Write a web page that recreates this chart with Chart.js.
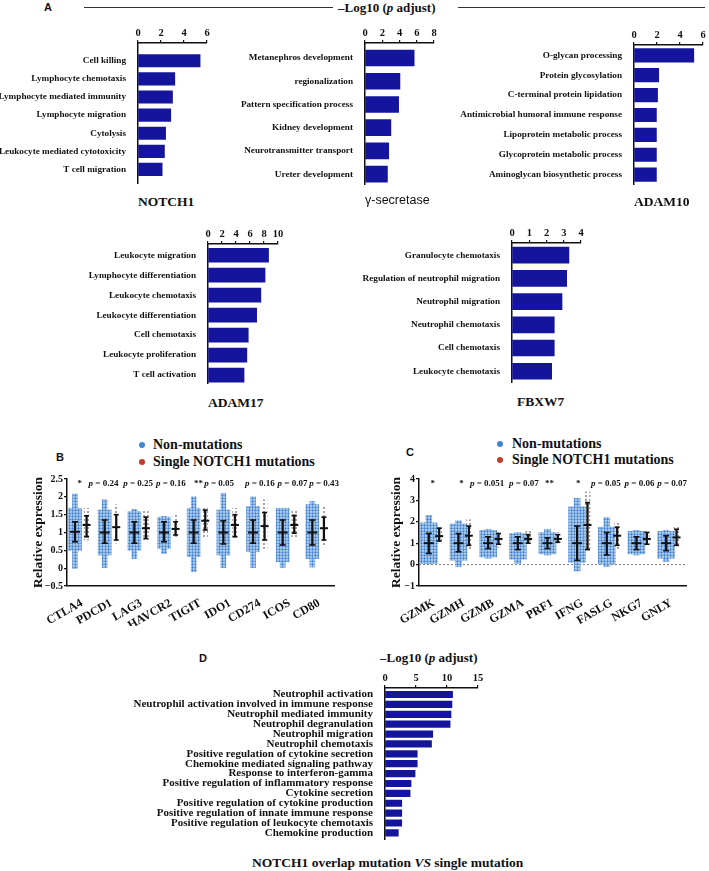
<!DOCTYPE html>
<html>
<head>
<meta charset="utf-8">
<script src="https://cdn.jsdelivr.net/npm/chart.js@4.4.1/dist/chart.umd.min.js"></script>
<style>
body { margin: 0; background: #fff; }
#wrap { position: relative; width: 709px; height: 871px; font-family: 'Liberation Serif', 'Times New Roman', serif; color: #111; overflow: hidden; }
canvas { position: absolute; }
.t { position: absolute; white-space: nowrap; font-weight: bold; line-height: 1; }
.tag { position: absolute; font-family: 'Liberation Sans', Arial, sans-serif; font-weight: bold; font-size: 11px; line-height: 1; }
.rule { position: absolute; height: 0; border-top: 1.3px solid #333; }
.dot { position: absolute; width: 6px; height: 6px; border-radius: 50%; }
</style>
</head>
<body>
<div id="wrap">
  <div class="tag" style="left:44px;top:2px">A</div>
  <div class="rule" style="left:84px;top:7px;width:249px"></div>
  <div class="t" style="left:338px;top:1px;font-size:13px">–Log10 (<i>p</i> adjust)</div>
  <div class="rule" style="left:458px;top:7px;width:247px"></div>

  <canvas id="notch1"></canvas>
  <canvas id="gsec"></canvas>
  <canvas id="adam10"></canvas>
  <canvas id="adam17"></canvas>
  <canvas id="fbxw7"></canvas>
  <div class="t" style="left:138px;top:195px;font-size:13.5px">NOTCH1</div>
  <div class="t" style="left:365px;top:194px;font-size:12.5px;font-weight:normal;font-family:'Liberation Sans',Arial,sans-serif">γ-secretase</div>
  <div class="t" style="left:634px;top:195px;font-size:13.5px">ADAM10</div>
  <div class="t" style="left:208px;top:396px;font-size:13.5px">ADAM17</div>
  <div class="t" style="left:517px;top:395px;font-size:13.5px">FBXW7</div>

  <div class="tag" style="left:56px;top:452px">B</div>
  <div class="dot" style="left:139px;top:442px;background:#3f86d2"></div>
  <div class="t" style="left:153px;top:438px;font-size:14px">Non-mutations</div>
  <div class="dot" style="left:139px;top:459px;background:#c23a2c"></div>
  <div class="t" style="left:153px;top:455px;font-size:14px">Single NOTCH1 mutations</div>
  <canvas id="panelB"></canvas>

  <div class="tag" style="left:406px;top:447px">C</div>
  <div class="dot" style="left:497px;top:441px;background:#3f86d2"></div>
  <div class="t" style="left:512px;top:437px;font-size:14px">Non-mutations</div>
  <div class="dot" style="left:497px;top:457px;background:#c23a2c"></div>
  <div class="t" style="left:512px;top:453px;font-size:14px">Single NOTCH1 mutations</div>
  <canvas id="panelC"></canvas>

  <div class="tag" style="left:199px;top:653px">D</div>
  <div class="t" style="left:380px;top:651px;font-size:13px">–Log10 (<i>p</i> adjust)</div>
  <canvas id="panelD"></canvas>
  <div class="t" style="left:252px;top:856px;font-size:13.5px">NOTCH1 overlap mutation <i>VS</i> single mutation</div>
</div>

<script>
// ---- panel A: GO terms, -log10(p adjust)
const notch1Terms = ['Cell killing', 'Lymphocyte chemotaxis', 'Lymphocyte mediated immunity', 'Lymphocyte migration', 'Cytolysis', 'Leukocyte mediated cytotoxicity', 'T cell migration'];
const notch1Vals = [5.4, 3.2, 3.0, 2.85, 2.4, 2.3, 2.1];

const gsecTerms = ['Metanephros development', 'regionalization', 'Pattern specification process', 'Kidney development', 'Neurotransmitter transport', 'Ureter development'];
const gsecVals = [5.7, 4.05, 3.9, 3.0, 2.75, 2.6];

const adam10Terms = ['O-glycan processing', 'Protein glycosylation', 'C-terminal protein lipidation', 'Antimicrobial humoral immune response', 'Lipoprotein metabolic process', 'Glycoprotein metabolic process', 'Aminoglycan biosynthetic process'];
const adam10Vals = [5.2, 2.15, 2.05, 1.95, 1.95, 1.95, 1.95];

const adam17Terms = ['Leukocyte migration', 'Lymphocyte differentiation', 'Leukocyte chemotaxis', 'Leukocyte differentiation', 'Cell chemotaxis', 'Leukocyte proliferation', 'T cell activation'];
const adam17Vals = [8.65, 8.15, 7.55, 6.95, 5.75, 5.55, 5.15];

const fbxw7Terms = ['Granulocyte chemotaxis', 'Regulation of neutrophil migration', 'Neutrophil migration', 'Neutrophil chemotaxis', 'Cell chemotaxis', 'Leukocyte chemotaxis'];
const fbxw7Vals = [3.3, 3.17, 2.9, 2.45, 2.45, 2.3];

// ---- panel B: immune checkpoints (relative expression)
const bGenes = ['CTLA4', 'PDCD1', 'LAG3', 'HAVCR2', 'TIGIT', 'IDO1', 'CD274', 'ICOS', 'CD80'];
const bNonMean = [1.02, 1, 1, 1, 1, 1, 1, 1, 1];
const bNonSd = [[0.74, 1.3], [0.7, 1.35], [0.7, 1.3], [0.74, 1.3], [0.7, 1.35], [0.68, 1.33], [0.7, 1.35], [0.65, 1.35], [0.65, 1.35]];
const bNonCore = [[0.5, 1.68], [0.37, 1.63], [0.5, 1.59], [0.55, 1.43], [0.32, 1.68], [0.37, 1.63], [0.46, 1.73], [0.18, 1.68], [0.27, 1.78]];
const bNonRange = [[-0.01, 2.08], [0, 1.92], [0.27, 1.65], [0.41, 1.45], [-0.1, 2.0], [0, 2.1], [0, 2.0], [0.02, 1.68], [0.03, 1.87]];
const bMutMean = [1.21, 1.15, 1.12, 1.1, 1.33, 1.21, 1.18, 1.21, 1.12];
const bMutSd = [[0.88, 1.47], [0.79, 1.5], [0.83, 1.43], [0.93, 1.3], [1.07, 1.63], [0.88, 1.5], [0.79, 1.56], [0.98, 1.48], [0.79, 1.43]];
const bMutRange = [[0.79, 1.68], [0.7, 1.78], [0.8, 1.6], [0.88, 1.5], [0.88, 1.68], [0.9, 1.68], [0.55, 1.92], [0.85, 1.6], [0.6, 1.73]];
const bNotes = ['*', 'p = 0.24', 'p = 0.25', 'p = 0.16', '**', 'p = 0.05', 'p = 0.16', 'p = 0.07', 'p = 0.43'];

// ---- panel C: cytotoxic genes
const cGenes = ['GZMK', 'GZMH', 'GZMB', 'GZMA', 'PRF1', 'IFNG', 'FASLG', 'NKG7', 'GNLY'];
const cNonMean = [1, 1, 1, 1, 1, 1, 1, 1, 1];
const cNonSd = [[0.52, 1.46], [0.6, 1.45], [0.75, 1.3], [0.7, 1.3], [0.75, 1.25], [0.2, 1.8], [0.45, 1.5], [0.7, 1.3], [0.65, 1.35]];
const cNonCore = [[0.05, 1.95], [0.2, 1.9], [0.35, 1.6], [0.25, 1.45], [0.5, 1.5], [0.1, 2.7], [0.0, 1.75], [0.5, 1.55], [0.3, 1.55]];
const cNonRange = [[0, 2.3], [-0.1, 2.05], [0.3, 1.65], [0.05, 1.5], [0.45, 1.65], [-0.3, 3.1], [-0.1, 2.2], [0.45, 1.6], [0.15, 1.6]];
const cMutMean = [1.33, 1.35, 1.2, 1.2, 1.2, 1.85, 1.35, 1.2, 1.27];
const cMutSd = [[1.1, 1.7], [0.9, 1.8], [0.95, 1.45], [1.0, 1.4], [1.05, 1.4], [0.7, 2.9], [0.9, 1.75], [0.95, 1.5], [0.9, 1.65]];
const cMutRange = [[1.0, 1.75], [0.7, 2.1], [0.8, 1.5], [1.0, 1.6], [1.0, 1.5], [0.7, 3.4], [0.7, 2.0], [0.9, 1.6], [0.9, 1.8]];
const cNotes = ['*', '*', 'p = 0.051', 'p = 0.07', '**', '*', 'p = 0.05', 'p = 0.06', 'p = 0.07'];

// ---- panel D: overlap vs single mutation
const dTerms = ['Neutrophil activation', 'Neutrophil activation involved in immune response', 'Neutrophil mediated immunity', 'Neutrophil degranulation', 'Neutrophil migration', 'Neutrophil chemotaxis', 'Positive regulation of cytokine secretion', 'Chemokine mediated signaling pathway', 'Response to interferon-gamma', 'Positive regulation of inflammatory response', 'Cytokine secretion', 'Positive regulation of cytokine production', 'Positive regulation of innate immune response', 'Positive regulation of leukocyte chemotaxis', 'Chemokine production'];
const dVals = [10.9, 10.8, 10.65, 10.5, 7.7, 7.5, 5.2, 5.2, 4.85, 4.2, 4.05, 2.7, 2.7, 2.7, 2.15];

const SERIF = "'Liberation Serif', 'Times New Roman', serif";
const INK = '#111';
const BAR_BLUE = '#14149c';

// horizontal GO bar chart; box = chart area in page pixels
function termBars(id, box, terms, vals, xMax, xStep, firstMid, lastMid, barH, fontPx) {
  const cv = document.getElementById(id);
  const n = terms.length;
  const unit = (lastMid - firstMid) / (n - 1);
  const yMin = -(firstMid - box.top) / unit;
  const yMax = n - 1 + (box.bottom - lastMid) / unit;
  cv.style.left = (box.left - box.labelW) + 'px';
  cv.style.top = (box.top - box.axisH) + 'px';
  cv.width = box.labelW + box.right - box.left + box.padR;
  cv.height = box.axisH + box.bottom - box.top;
  new Chart(cv, {
    type: 'bar',
    data: {
      datasets: [{
        data: vals.map((v, i) => ({ x: v, y: i })),
        backgroundColor: BAR_BLUE,
        barThickness: barH
      }]
    },
    options: {
      indexAxis: 'y',
      responsive: false,
      animation: false,
      devicePixelRatio: 1,
      layout: { padding: { left: 0, right: box.padR, top: 0, bottom: 0 } },
      plugins: { legend: { display: false }, tooltip: { enabled: false } },
      scales: {
        x: {
          type: 'linear', position: 'top', min: 0, max: xMax, offset: false,
          ticks: { stepSize: xStep, autoSkip: false, maxRotation: 0, color: INK, padding: 0, font: { family: SERIF, weight: 'bold', size: 10.5 } },
          grid: { drawOnChartArea: false, color: INK, tickLength: 3, lineWidth: 1.2 },
          border: { color: INK, width: 1.5 },
          afterFit: s => { s.height = box.axisH; }
        },
        y: {
          type: 'linear', reverse: true, min: yMin, max: yMax, offset: false,
          afterBuildTicks: s => { s.ticks = terms.map((_, i) => ({ value: i })); },
          ticks: { autoSkip: false, callback: v => terms[v], color: INK, padding: 4, font: { family: SERIF, weight: 'bold', size: fontPx } },
          grid: { display: false },
          border: { color: INK, width: 1.5 },
          afterFit: s => { s.width = box.labelW; }
        }
      }
    }
  });
}

termBars('notch1', { left: 138, right: 207, top: 43, bottom: 193, labelW: 138, axisH: 23, padR: 6 }, notch1Terms, notch1Vals, 6, 2, 62, 178, 12.5, 9.2);
termBars('gsec', { left: 365, right: 434, top: 43, bottom: 194, labelW: 140, axisH: 23, padR: 6 }, gsecTerms, gsecVals, 8, 2, 59, 183, 16, 9.2);
termBars('adam10', { left: 634, right: 703, top: 45, bottom: 194, labelW: 185, axisH: 23, padR: 5 }, adam10Terms, adam10Vals, 6, 2, 56, 183.5, 13.5, 9.2);
termBars('adam17', { left: 208, right: 278, top: 244, bottom: 393, labelW: 140, axisH: 23, padR: 8 }, adam17Terms, adam17Vals, 10, 2, 256, 384, 14, 9.2);
termBars('fbxw7', { left: 512, right: 581, top: 243, bottom: 392, labelW: 165, axisH: 23, padR: 6 }, fbxw7Terms, fbxw7Vals, 4, 1, 256, 380, 16, 9.2);
termBars('panelD', { left: 385, right: 478, top: 688, bottom: 850, labelW: 275, axisH: 20, padR: 8 }, dTerms, dVals, 15, 5, 695, 843, 6.5, 11);

// dotted fill used to imitate the dense scatter of single samples
function dots(tile, bg, fg, r) {
  const c = document.createElement('canvas');
  c.width = c.height = tile;
  const g = c.getContext('2d');
  if (bg) { g.fillStyle = bg; g.fillRect(0, 0, tile, tile); }
  g.fillStyle = fg;
  g.beginPath(); g.arc(tile / 2, tile / 2, r, 0, Math.PI * 2); g.fill();
  return g.createPattern(c, 'repeat');
}
const bluePat = dots(3, '#bcd5ef', '#3d7fcc', 1.15);
const grayPat = dots(4, null, '#9b8a88', 1.1);

function notesPlugin(texts, nudges, size) {
  return {
    id: 'notes',
    afterDatasetsDraw(chart) {
      const { ctx, chartArea, scales } = chart;
      ctx.save();
      ctx.fillStyle = INK;
      ctx.textBaseline = 'middle';
      ctx.textAlign = 'left';
      texts.forEach((t, i) => {
        if (!t) return;
        const parts = t.split(/(\bp\b)/).filter(s => s);
        const fonts = parts.map(s => (s === 'p' ? 'italic bold ' : 'bold ') + size + 'px ' + SERIF);
        let w = 0;
        parts.forEach((s, k) => { ctx.font = fonts[k]; w += ctx.measureText(s).width; });
        let x = scales.x.getPixelForValue(i + 0.5) + nudges[i] - w / 2;
        const y = chartArea.top + 5;
        parts.forEach((s, k) => { ctx.font = fonts[k]; ctx.fillText(s, x, y); x += ctx.measureText(s).width; });
      });
      ctx.restore();
    }
  };
}

function swarmPanel(id, box, g, genes, d, notes, nudges) {
  const cv = document.getElementById(id);
  cv.style.left = (box.left - box.axisW) + 'px';
  cv.style.top = (box.top - box.padT) + 'px';
  cv.width = box.axisW + box.right - box.left + box.padR;
  cv.height = box.padT + box.bottom - box.top + box.axisH;
  const at = (off, arr) => arr.map((v, i) => ({ x: i + off, y: v }));
  const caps = (off, arr) => arr.flatMap((r, i) => [{ x: i + off, y: r[0] }, { x: i + off, y: r[1] }]);
  const band = (off, arr, w, fill, order) => ({ data: at(off, arr), barThickness: w, backgroundColor: fill, grouped: false, order });
  const tick = (pts, r, bw, order) => ({ type: 'scatter', data: pts, pointStyle: 'line', pointRadius: r, borderWidth: bw, borderColor: INK, order });
  const datasets = [
    band(g.blueAt, d.nonRange, g.tailW, bluePat, 6),
    band(g.blueAt, d.nonCore, g.coreW, bluePat, 5),
    band(g.redAt, d.mutRange, g.mutW, grayPat, 5),
    band(g.blueAt, d.nonSd, 1.6, INK, 3),
    band(g.redAt, d.mutSd, 1.6, INK, 3),
    tick(caps(g.blueAt, d.nonSd), 3, 1.6, 2),
    tick(caps(g.redAt, d.mutSd), 2.5, 1.6, 2),
    tick(at(g.blueAt, d.nonMean), 5, 2, 1),
    tick(at(g.redAt, d.mutMean), 4, 2, 1)
  ];
  if (g.zeroLine) {
    datasets.push({ type: 'line', data: [{ x: 0, y: 0 }, { x: genes.length, y: 0 }], borderColor: '#777', borderWidth: 1, borderDash: [2, 2], pointRadius: 0, order: 9 });
  }
  new Chart(cv, {
    type: 'bar',
    data: { datasets },
    options: {
      responsive: false,
      animation: false,
      devicePixelRatio: 1,
      layout: { padding: { left: 0, right: box.padR, top: box.padT, bottom: 0 } },
      plugins: { legend: { display: false }, tooltip: { enabled: false } },
      scales: {
        x: {
          type: 'linear', min: 0, max: genes.length, offset: false,
          afterBuildTicks: s => { s.ticks = genes.map((_, i) => ({ value: i + 0.5 })); },
          ticks: { autoSkip: false, minRotation: 30, maxRotation: 30, padding: 2, color: INK, callback: (v, i) => genes[i], font: { family: SERIF, weight: 'bold', size: 12 } },
          grid: { display: false },
          border: { color: INK, width: 1.5 },
          afterFit: s => { s.height = box.axisH; }
        },
        y: {
          type: 'linear', min: g.yMin, max: g.yMax,
          ticks: { stepSize: g.yStep, color: INK, padding: 1, callback: v => String(v).replace('-', '−'), font: { family: SERIF, weight: 'bold', size: 10 } },
          grid: { drawOnChartArea: false, color: INK, tickLength: 3, lineWidth: 1.2 },
          border: { color: INK, width: 1.5 },
          title: { display: true, text: 'Relative expression', color: INK, padding: { top: 4, bottom: 0 }, font: { family: SERIF, weight: 'bold', size: 13.5 } },
          afterFit: s => { s.width = box.axisW; }
        }
      }
    },
    plugins: [notesPlugin(notes, nudges, 9)]
  });
}

swarmPanel('panelB',
  { left: 67, right: 336, top: 479, bottom: 586, axisW: 41, padT: 9, padR: 5, axisH: 40 },
  { blueAt: 0.27, redAt: 0.66, coreW: 13, tailW: 5, mutW: 5, yMin: -0.5, yMax: 2.5, yStep: 0.5 },
  bGenes,
  { nonMean: bNonMean, nonSd: bNonSd, nonCore: bNonCore, nonRange: bNonRange, mutMean: bMutMean, mutSd: bMutSd, mutRange: bMutRange },
  bNotes, [-2, -8, -3, 0, -2, -11, 0, 3, 5]);

swarmPanel('panelC',
  { left: 419, right: 688, top: 479, bottom: 586, axisW: 35, padT: 9, padR: 5, axisH: 40 },
  { blueAt: 0.33, redAt: 0.68, coreW: 17, tailW: 6, mutW: 5, yMin: -1, yMax: 4, yStep: 1, zeroLine: true },
  cGenes,
  { nonMean: cNonMean, nonSd: cNonSd, nonCore: cNonCore, nonRange: cNonRange, mutMean: cMutMean, mutSd: cMutSd, mutRange: cMutRange },
  cNotes, [-1, -2, -6, 1, -3, -4, -6, -2, 1]);
</script>
</body>
</html>
